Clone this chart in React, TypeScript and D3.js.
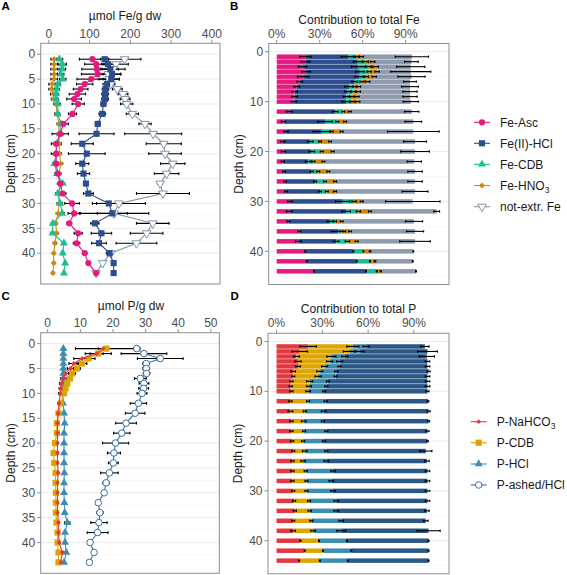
import React from 'react';
import * as d3 from 'd3';

// ---------------- DATA ----------------
const depths = [1, 2, 3, 4, 5, 6, 7, 8, 9, 10, 12, 14, 16, 18, 20, 22, 24, 26, 28, 30, 32, 34, 36, 38, 40, 42, 44];

// Panel A: µmol Fe / g dw
const feAsc = [107, 116, 118, 120, 104, 88, 78, 70, 62, 72, 58, 36, 28, 18, 18, 18, 22, 28, 34, 57, 62, 50, 72, 68, 88, 97, 116];
const feAscSd = [32, 28, 37, 40, 35, 20, 18, 20, 18, 15, 10, 12, 20, 12, 12, 6, 6, 5, 8, 18, 15, 6, 10, 8, 5, 4, 3];
const feHCl = [137, 145, 151, 155, 153, 143, 139, 138, 138, 134, 131, 120, 117, 82, 93, 82, 85, 91, 97, 147, 156, 113, 129, 123, 149, 159, 159];
const feHClSd = [10, 15, 20, 22, 20, 10, 8, 8, 8, 6, 8, 6, 43, 27, 45, 16, 15, 5, 12, 30, 37, 10, 25, 18, 8, 4, 3];
const feCDB = [26, 33, 33, 29, 34, 22, 20, 18, 18, 22, 22, 30, 28, 20, 18, 14, 20, 34, 22, 28, 33, 10, 9, 37, 34, 40, 37];
const feCDBSd = [8, 10, 8, 8, 8, 6, 6, 6, 5, 6, 5, 6, 6, 5, 5, 5, 5, 5, 5, 5, 5, 4, 4, 4, 3, 3, 3];
const feHNO3 = [13, 13, 13, 13, 13, 8, 7, 11, 12, 18, 20, 25, 25, 25, 26, 29, 25, 26, 25, 25, 23, 17, 19, 15, 12, 12, 10];
const feHNO3Sd = [8, 8, 8, 8, 8, 8, 7, 7, 6, 6, 6, 5, 5, 5, 5, 5, 5, 5, 5, 5, 5, 4, 4, 4, 3, 3, 3];
const feNot = [186, 165, 157, 146, 148, 152, 168, 182, 187, 191, 205, 236, 256, 282, 285, 304, 289, 273, 280, 172, 160, 255, 240, 215, 152, 132, 116];
const feNotSd = [40, 30, 30, 30, 25, 10, 12, 12, 12, 15, 15, 15, 70, 43, 40, 30, 30, 6, 65, 65, 85, 40, 40, 50, 5, 4, 3];

// Panel B: contribution to total Fe (%)
const bAsc = [20, 20, 18, 20.5, 18.5, 16, 14, 12.5, 12.5, 12, 8.8, 4.7, 6.5, 4.2, 4.7, 4.2, 5.1, 5.8, 6.5, 9.3, 8.8, 8.1, 15.8, 15.1, 19.8, 20.9, 26];
const bHCl = [30, 36.5, 39, 37.5, 39, 38.5, 36.5, 37, 36, 36.5, 31.9, 29, 24.9, 19.1, 19.7, 17.8, 19.3, 20.9, 23.7, 36.7, 39.6, 29.1, 27.2, 26.3, 33.7, 34.9, 36.3];
const bCDB = [5.5, 5.5, 7, 6.5, 5, 5, 4, 4, 4, 4, 5.8, 8.6, 7, 6.9, 7, 3.6, 4.6, 7, 4.7, 8, 8.6, 3.5, 2.3, 7.9, 7, 9.3, 7.5];
const bHNO3 = [3.5, 5, 5, 5.5, 5.5, 4, 2.5, 3.5, 3.5, 4, 4.5, 5.4, 6.9, 7, 7.6, 7, 7, 7, 5.8, 5.3, 8, 4.6, 5.9, 6.5, 4.6, 3.5, 2.8];
const bNot = [35.3, 27, 24.5, 23.5, 26, 29.5, 36, 36, 37, 37, 43.2, 47.6, 50, 59.3, 57.5, 63.4, 60.5, 55.8, 55.8, 35.6, 46.6, 50.5, 45.3, 40.7, 30.2, 26.3, 24.6];
const bAscSd = [4, 3, 3, 3, 4, 2, 2, 2, 2, 2, 2, 1.5, 1.5, 1.5, 1.5, 1, 1, 1, 1, 1.5, 2, 1, 1, 2, 0.3, 0.3, 0.3];
const bHClSd = [5, 3, 5, 3, 3, 2, 3, 2, 2, 3, 2, 5, 6, 2, 2, 2, 1, 1, 1, 5, 3, 2, 5, 2, 0.3, 0.3, 0.3];
const bCDBSd = [2, 2, 2, 1.5, 1.5, 1.5, 1.5, 1.5, 1.5, 1.5, 1, 1, 1, 1, 1, 1, 1, 1, 1, 1.5, 1.5, 1, 1, 1.5, 0.3, 0.3, 0.3];
const bHNO3Sd = [1.5, 1.5, 2, 1.5, 1.5, 1.5, 1.5, 1.5, 1.5, 1.5, 1, 1, 1, 1, 1, 1, 1, 1, 1, 1, 1, 1, 1, 1, 0.5, 0.5, 0.5];
const bNotSd = [11.6, 4.7, 9.8, 14, 9.5, 4.4, 5.8, 5, 5, 5.3, 5, 5.8, 18, 8, 10, 5, 5, 5, 9, 19, 2, 6, 6, 10.7, 0.3, 0.3, 0.3];

// Panel C: µmol P / g dw
const pNa = [17, 15, 10.5, 8, 7, 5.5, 4.8, 4.2, 4, 3.8, 3.5, 3.2, 3, 3, 3, 3, 3, 3.2, 3, 3, 3, 3, 3.3, 3.3, 3.5, 4.5, 4];
const pNaSd = [1.5, 2, 2.5, 1.5, 1, 1, 0.8, 0.6, 0.5, 0.5, 0.4, 0.3, 0.3, 0.3, 0.3, 0.3, 0.3, 0.3, 0.3, 0.3, 0.3, 0.3, 0.3, 0.3, 0.3, 0.3, 0.3];
const pCDB = [18, 15.5, 12.5, 10.5, 9, 7.5, 6.8, 6, 5.5, 5, 4, 3.3, 2.8, 2.8, 2.2, 1.8, 2, 2.4, 2.4, 2.5, 2.5, 2.5, 2.7, 3, 3, 3.3, 3.3];
const pCDBSd = [9.5, 4, 2, 1.5, 1, 1, 0.8, 0.6, 0.5, 0.5, 0.4, 0.4, 0.3, 0.3, 0.3, 0.3, 0.3, 0.3, 0.3, 0.3, 0.3, 0.3, 0.3, 0.3, 0.3, 0.3, 0.3];
const pHCl = [4.8, 4.8, 4.8, 4.8, 4.8, 4.8, 4.8, 4.7, 4.7, 4.6, 4.7, 5, 5.2, 5, 5, 5, 5, 5.1, 5, 5, 5.1, 5.2, 6, 5.3, 5.3, 5.7, 5];
const pHClSd = [0.3, 0.3, 0.3, 0.3, 0.3, 0.3, 0.3, 0.3, 0.3, 0.3, 0.3, 0.3, 0.3, 0.3, 0.3, 0.3, 0.3, 0.3, 0.3, 0.3, 0.3, 0.3, 0.8, 0.3, 0.3, 0.3, 0.3];
const pAsh = [27.3, 29.5, 34.5, 30.2, 30.2, 30.3, 28.4, 29.5, 29.4, 28.9, 27.8, 26.8, 24, 22.7, 20.8, 20.3, 20.1, 18.9, 17.9, 17.3, 15.5, 16, 15.7, 15.3, 13, 14.2, 12.8];
const pAshSd = [1, 7, 7, 1, 1, 1, 1.8, 1.5, 1.5, 1.5, 2.5, 3, 3.2, 2.5, 4, 2, 1.5, 2.7, 1, 0.5, 0.5, 1, 2.5, 3.2, 0.3, 0.3, 0.3];

// Panel D: contribution to total P (%)
const dNa = [20.7, 15.2, 13, 14.1, 14.1, 10.9, 10.9, 9.8, 9.3, 9.8, 9.1, 9.1, 9.8, 9.8, 10.2, 10.9, 10.4, 10.4, 10.4, 10.9, 11.5, 12, 10.9, 10.9, 15.7, 18.5, 14.8];
const dCDB = [29.3, 32.6, 22.9, 20.7, 17.4, 17.4, 16.3, 11.9, 12, 10.9, 11.6, 9.4, 8, 8.2, 7.2, 7.6, 7, 8.7, 9.2, 8.7, 9.8, 9.7, 11.9, 13, 12.1, 11.9, 13.5];
const dHCl = [8.7, 6.5, 8.7, 6.5, 9.8, 10.8, 11.5, 12, 11.3, 10.4, 11.5, 12.4, 12.6, 14.6, 13.7, 14.1, 15.2, 17.9, 16.3, 17.4, 17.8, 17.4, 19.6, 18.5, 18.3, 18.5, 18.4];
const dAsh = [38.5, 44.6, 53.9, 57.6, 57.6, 60.5, 60.2, 65.2, 66.3, 67.8, 67.1, 68.7, 69.2, 66.3, 67.8, 65.2, 65.9, 61.9, 63, 61.9, 59.8, 59.4, 55.4, 57.2, 53.5, 50.7, 52.9];
const dNaSd = [5.4, 5, 2, 2, 1.5, 1.5, 1, 1, 1, 1, 1, 1.5, 1, 1, 1, 1, 1, 1, 1, 1, 1, 1, 1, 1.5, 0.3, 0.3, 0.3];
const dCDBSd = [4, 4, 3, 2, 2, 2, 2, 2, 1.5, 1.5, 1, 1, 1.5, 1, 1, 1.5, 1.5, 1, 1, 1, 1, 1, 1, 1.5, 0.3, 0.3, 0.3];
const dHClSd = [2, 3, 2, 2, 1, 1, 1, 1, 1, 1, 1, 1.5, 1, 1, 1, 1, 1.5, 1.5, 1.5, 1.5, 1.5, 1.5, 1.5, 3, 0.3, 0.3, 0.3];
const dAshSd = [2.7, 6.5, 5, 1.5, 1.5, 1, 1.5, 1.5, 1.5, 1, 0.5, 1, 0.7, 1, 0.5, 4, 1.5, 1.5, 1.5, 1.5, 1.5, 1.5, 1.5, 7.6, 0.3, 0.3, 0.3];

// tick labels
const feTicks = [0, 100, 200, 300, 400];
const pTicks = [0, 10, 20, 30, 40, 50];
const pctTicks = [0, 30, 60, 90];
const depthTicksLine = [0, 5, 10, 15, 20, 25, 30, 35, 40];
const depthTicksBar = [0, 10, 20, 30, 40];

const FE_NAMES = ['Fe-Asc', 'Fe(II)-HCl', 'Fe-CDB', 'Fe-HNO3', 'not-extr. Fe'];
const P_NAMES = ['P-NaHCO3', 'P-CDB', 'P-HCl', 'P-ashed/HCl'];

// ---------------- STYLE ----------------
const FONT = "'Liberation Sans', Arial, Helvetica, sans-serif";
const C_ASC = '#E6197E';
const C_HCL = '#2D4E8E';
const C_CDB = '#1EBE92';
const C_HNO3 = '#CC8A14';
const C_NOT = '#8595AB';
const C_NOTBAR = '#8D9BAD';
const P_NA = '#E3383F';
const P_CDB = '#DCA500';
const P_HCL = '#3C8DB1';
const P_ASH = '#3A6FA3';
const P_ASHBAR = '#2B5886';
const GRID = '#E9E9E9';
const GRID_MINOR = '#F4F4F4';
const BORDER = '#8E8E8E';
const TICKTXT = '#4D4D4D';

type Box = { l: number; r: number; t: number; b: number };

function markerPath(shape: string): string {
  switch (shape) {
    case 'circle':
      return d3.symbol(d3.symbolCircle, 30)() as string;
    case 'square':
      return d3.symbol(d3.symbolSquare, 38)() as string;
    case 'triangle':
      return d3.symbol(d3.symbolTriangle, 28)() as string;
    case 'downtri':
      return d3.symbol(d3.symbolTriangle, 32)() as string;
    case 'diamond':
      return 'M0,-3L3,0L0,3L-3,0Z';
    case 'smalldiamond':
      return 'M0,-2.4L2.4,0L0,2.4L-2.4,0Z';
    case 'hollowcircle':
      return d3.symbol(d3.symbolCircle, 34)() as string;
    default:
      return '';
  }
}

function Marker({ x, y, shape, color }: { x: number; y: number; shape: string; color: string }) {
  const d = markerPath(shape);
  const hollow = shape === 'downtri' || shape === 'hollowcircle';
  const rot = shape === 'downtri' ? ' rotate(180)' : '';
  return (
    <path
      d={d}
      transform={`translate(${x},${y})${rot}`}
      fill={hollow ? '#fff' : color}
      stroke={hollow ? color : 'none'}
      strokeWidth={hollow ? 1 : 0}
    />
  );
}

type Series = { values: number[]; sd: number[]; color: string; shape: string };

function Frame({ box, yScale, yTicks, minor }: { box: Box; yScale: any; yTicks: number[]; minor: number[] }) {
  return (
    <g>
      <rect x={box.l} y={box.t} width={box.r - box.l} height={box.b - box.t} fill="#fff" />
      {minor.map((t) => (
        <line key={'m' + t} x1={box.l} x2={box.r} y1={yScale(t)} y2={yScale(t)} stroke={GRID_MINOR} strokeWidth={0.6} />
      ))}
      {yTicks.map((t) => (
        <line key={'g' + t} x1={box.l} x2={box.r} y1={yScale(t)} y2={yScale(t)} stroke={GRID} strokeWidth={0.9} />
      ))}
    </g>
  );
}

function Axes({
  box, xScale, yScale, xTicks, yTicks, xFmt, title, titleX, titleBase, tickBase,
}: {
  box: Box; xScale: any; yScale: any; xTicks: number[]; yTicks: number[]; xFmt: (v: number) => string;
  title: string; titleX: number; titleBase: number; tickBase: number;
}) {
  const yMid = (box.t + box.b) / 2;
  return (
    <g fontFamily={FONT}>
      <rect x={box.l} y={box.t} width={box.r - box.l} height={box.b - box.t} fill="none" stroke={BORDER} strokeWidth={1} />
      {xTicks.map((t) => (
        <g key={'x' + t}>
          <line x1={xScale(t)} x2={xScale(t)} y1={box.t} y2={box.t - 3.6} stroke={BORDER} strokeWidth={1} />
          <text x={xScale(t)} y={tickBase} textAnchor="middle" fontSize={12} fill={TICKTXT}>{xFmt(t)}</text>
        </g>
      ))}
      {yTicks.map((t) => (
        <g key={'y' + t}>
          <line x1={box.l} x2={box.l - 3.6} y1={yScale(t)} y2={yScale(t)} stroke={BORDER} strokeWidth={1} />
          <text x={box.l - 5.5} y={yScale(t)} dy="0.35em" textAnchor="end" fontSize={12} fill={TICKTXT}>{t}</text>
        </g>
      ))}
      <text x={titleX} y={titleBase} textAnchor="middle" fontSize={12} fill="#1a1a1a">{title}</text>
      <text
        transform={`translate(${box.l - 26},${yMid}) rotate(-90)`}
        textAnchor="middle"
        fontSize={12}
        fill="#1a1a1a"
      >
        Depth (cm)
      </text>
    </g>
  );
}

function LinePanel({
  box, xDom, yDom, xTicks, series, title, titleX, titleBase, tickBase,
}: {
  box: Box; xDom: [number, number]; yDom: [number, number]; xTicks: number[]; series: Series[];
  title: string; titleX: number; titleBase: number; tickBase: number;
}) {
  const x = d3.scaleLinear().domain(xDom).range([box.l, box.r]);
  const y = d3.scaleLinear().domain(yDom).range([box.t, box.b]);
  const line = d3.line<number>().x((v) => x(v)).y((_, i) => y(depths[i]));
  const minor = [2.5, 7.5, 12.5, 17.5, 22.5, 27.5, 32.5, 37.5, 42.5];
  const order = series.map((_, i) => i).reverse();
  return (
    <g>
      <Frame box={box} yScale={y} yTicks={depthTicksLine} minor={minor} />
      {series.map((s, si) => (
        <g key={'e' + si}>
          {s.values.map((v, i) => {
            const yy = y(depths[i]);
            const x1 = x(v - s.sd[i]);
            const x2 = x(v + s.sd[i]);
            return (
              <g key={i} stroke="#000" strokeWidth={1.1}>
                <line x1={x1} x2={x2} y1={yy} y2={yy} />
                <line x1={x1} x2={x1} y1={yy - 1.4} y2={yy + 1.4} />
                <line x1={x2} x2={x2} y1={yy - 1.4} y2={yy + 1.4} />
              </g>
            );
          })}
        </g>
      ))}
      {order.map((si) => {
        const s = series[si];
        return (
          <g key={'s' + si}>
            <path d={line(s.values) as string} fill="none" stroke={s.color} strokeWidth={1.1} />
            {s.values.map((v, i) => (
              <Marker key={i} x={x(v)} y={y(depths[i])} shape={s.shape} color={s.color} />
            ))}
          </g>
        );
      })}
      <Axes
        box={box} xScale={x} yScale={y} xTicks={xTicks} yTicks={depthTicksLine}
        xFmt={(v) => String(v)} title={title} titleX={titleX} titleBase={titleBase} tickBase={tickBase}
      />
    </g>
  );
}

type Comp = { values: number[]; sd: number[]; color: string };

function BarPanel({
  box, xDom, comps, title, titleX, titleBase, tickBase,
}: {
  box: Box; xDom: [number, number]; comps: Comp[]; title: string; titleX: number; titleBase: number; tickBase: number;
}) {
  const x = d3.scaleLinear().domain(xDom).range([box.l, box.r]);
  const y = d3.scaleLinear().domain([-1.645, 46.645]).range([box.t, box.b]);
  const stacks = depths.map((_, i) => {
    let c = 0;
    return comps.map((cp) => {
      const s0 = c;
      c += cp.values[i];
      return [s0, c];
    });
  });
  const bw = 0.9;
  return (
    <g>
      <Frame box={box} yScale={y} yTicks={depthTicksBar} minor={[5, 15, 25, 35, 45]} />
      {depths.map((dep, i) => (
        <g key={'b' + i}>
          {comps.map((cp, k) => {
            const [s0, s1] = stacks[i][k];
            return (
              <rect
                key={k}
                x={x(s0)}
                y={y(dep - bw / 2)}
                width={x(s1) - x(s0)}
                height={y(dep + bw / 2) - y(dep - bw / 2)}
                fill={cp.color}
              />
            );
          })}
        </g>
      ))}
      {depths.map((dep, i) => (
        <g key={'eb' + i} stroke="#000" strokeWidth={1.1}>
          {comps.map((cp, k) => {
            const end = stacks[i][k][1];
            const x1 = x(end - cp.sd[i]);
            const x2 = x(end + cp.sd[i]);
            const yy = y(dep);
            return (
              <g key={k}>
                <line x1={x1} x2={x2} y1={yy} y2={yy} />
                <line x1={x1} x2={x1} y1={yy - 1.2} y2={yy + 1.2} />
                <line x1={x2} x2={x2} y1={yy - 1.2} y2={yy + 1.2} />
              </g>
            );
          })}
        </g>
      ))}
      <Axes
        box={box} xScale={x} yScale={y} xTicks={pctTicks} yTicks={depthTicksBar}
        xFmt={(v) => `${v}%`} title={title} titleX={titleX} titleBase={titleBase} tickBase={tickBase}
      />
    </g>
  );
}

function LegendLabel({ name, x, y }: { name: string; x: number; y: number }) {
  const m = name.match(/^(.*?)(\d)$/);
  if (m && (name.endsWith('HNO3') || name.endsWith('HCO3'))) {
    return (
      <text x={x} y={y} dy="0.35em" fontSize={12} fontFamily={FONT} fill="#1a1a1a">
        {m[1]}
        <tspan fontSize={8.5} dy={3}>{m[2]}</tspan>
      </text>
    );
  }
  return (
    <text x={x} y={y} dy="0.35em" fontSize={12} fontFamily={FONT} fill="#1a1a1a">{name}</text>
  );
}

function Legend({
  names, colors, shapes, x0, x1, tx, ys,
}: { names: string[]; colors: string[]; shapes: string[]; x0: number; x1: number; tx: number; ys: number[] }) {
  return (
    <g>
      {names.map((n, i) => (
        <g key={n}>
          <line x1={x0} x2={x1} y1={ys[i]} y2={ys[i]} stroke={colors[i]} strokeWidth={1.1} />
          <Marker x={(x0 + x1) / 2} y={ys[i]} shape={shapes[i]} color={colors[i]} />
          <LegendLabel name={n} x={tx} y={ys[i]} />
        </g>
      ))}
    </g>
  );
}

export default function App() {
  const feSeries: Series[] = [
    { values: feAsc, sd: feAscSd, color: C_ASC, shape: 'circle' },
    { values: feHCl, sd: feHClSd, color: C_HCL, shape: 'square' },
    { values: feCDB, sd: feCDBSd, color: C_CDB, shape: 'triangle' },
    { values: feHNO3, sd: feHNO3Sd, color: C_HNO3, shape: 'diamond' },
    { values: feNot, sd: feNotSd, color: C_NOT, shape: 'downtri' },
  ];
  const pSeries: Series[] = [
    { values: pNa, sd: pNaSd, color: P_NA, shape: 'smalldiamond' },
    { values: pCDB, sd: pCDBSd, color: P_CDB, shape: 'square' },
    { values: pHCl, sd: pHClSd, color: P_HCL, shape: 'triangle' },
    { values: pAsh, sd: pAshSd, color: P_ASH, shape: 'hollowcircle' },
  ];
  const feComps: Comp[] = [
    { values: bAsc, sd: bAscSd, color: C_ASC },
    { values: bHCl, sd: bHClSd, color: C_HCL },
    { values: bCDB, sd: bCDBSd, color: C_CDB },
    { values: bHNO3, sd: bHNO3Sd, color: C_HNO3 },
    { values: bNot, sd: bNotSd, color: C_NOTBAR },
  ];
  const pComps: Comp[] = [
    { values: dNa, sd: dNaSd, color: P_NA },
    { values: dCDB, sd: dCDBSd, color: P_CDB },
    { values: dHCl, sd: dHClSd, color: P_HCL },
    { values: dAsh, sd: dAshSd, color: P_ASHBAR },
  ];
  return (
    <svg
      width={567}
      height={575}
      viewBox="0 0 567 575"
      style={{ position: 'absolute', left: 0, top: 0, display: 'block' }}
      fontFamily={FONT}
    >
      <rect width={567} height={575} fill="#fff" />
      <LinePanel
        box={{ l: 40.7, r: 220, t: 43.3, b: 284 }}
        xDom={[-20, 420]}
        yDom={[-2.2, 46.2]}
        xTicks={feTicks}
        series={feSeries}
        title="µmol Fe/g dw"
        titleX={125}
        titleBase={19.5}
        tickBase={37.5}
      />
      <BarPanel
        box={{ l: 268.7, r: 449, t: 43.5, b: 284.5 }}
        xDom={[-5.6, 120.2]}
        comps={feComps}
        title="Contribution to total Fe"
        titleX={359}
        titleBase={23.5}
        tickBase={37.5}
      />
      <LinePanel
        box={{ l: 40.7, r: 219.3, t: 332.7, b: 573.3 }}
        xDom={[-2.15, 52.6]}
        yDom={[-2.2, 46.2]}
        xTicks={pTicks}
        series={pSeries}
        title="µmol P/g dw"
        titleX={131}
        titleBase={310}
        tickBase={327}
      />
      <BarPanel
        box={{ l: 268, r: 449, t: 333.3, b: 573.8 }}
        xDom={[-5.6, 113]}
        comps={pComps}
        title="Contribution to total P"
        titleX={358.5}
        titleBase={312.5}
        tickBase={327}
      />
      <Legend
        names={FE_NAMES}
        colors={[C_ASC, C_HCL, C_CDB, C_HNO3, C_NOT]}
        shapes={['circle', 'square', 'triangle', 'diamond', 'downtri']}
        x0={474}
        x1={490}
        tx={500}
        ys={[122.3, 143.3, 164.3, 185.5, 206.7]}
      />
      <Legend
        names={P_NAMES}
        colors={[P_NA, P_CDB, P_HCL, P_ASH]}
        shapes={['smalldiamond', 'square', 'triangle', 'hollowcircle']}
        x0={470.7}
        x1={486.7}
        tx={496.7}
        ys={[421.7, 442.7, 464, 485]}
      />
      <g fontFamily={FONT} fontWeight="bold" fontSize={11.5} fill="#000">
        <text x={1.5} y={10}>A</text>
        <text x={230} y={10}>B</text>
        <text x={1.5} y={300}>C</text>
        <text x={230.5} y={300}>D</text>
      </g>
    </svg>
  );
}
